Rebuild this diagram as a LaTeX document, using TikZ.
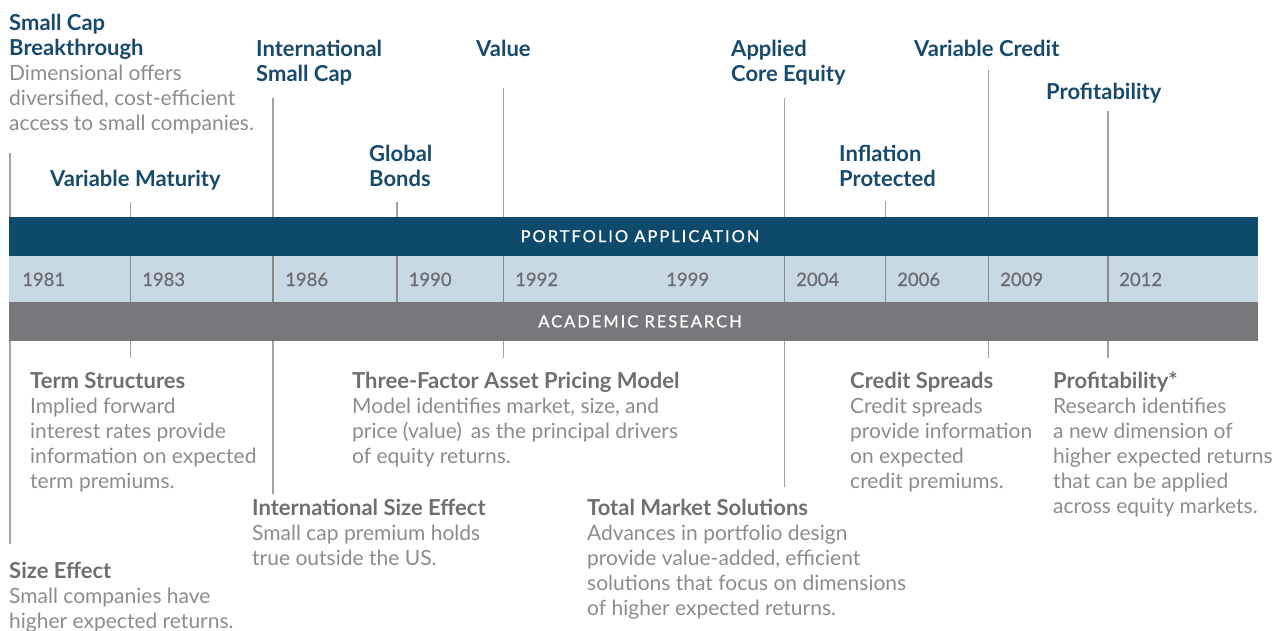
\documentclass[tikz,border=0pt]{standalone}
\usepackage{fontspec}
\setmainfont{Lato}
\definecolor{navy}{HTML}{0E4A6B}
\definecolor{navytext}{HTML}{174A6C}
\definecolor{lightband}{HTML}{C6D9E5}
\definecolor{grayband}{HTML}{78787C}
\definecolor{yeargray}{HTML}{6C6C70}
\definecolor{bodygray}{HTML}{8C8C8F}
\definecolor{headgray}{HTML}{6E6F72}
\definecolor{linegray}{HTML}{A2A2A2}
\newcommand{\hd}[1]{{\fontsize{22}{25}\selectfont\bfseries\color{navytext}#1}}
\newcommand{\rh}[1]{{\fontsize{22}{25}\selectfont\bfseries\color{headgray}#1}}
\begin{document}
\begin{tikzpicture}[x=1pt,y=-1pt,
  txt/.style={anchor=base west, inner sep=0pt, align=left, text=bodygray,
    font=\fontsize{21}{25}\selectfont},
  band/.style={draw=none, inner sep=0pt, minimum width=1249pt},
  bandlabel/.style={text=white, inner sep=0pt,
    font=\fontsize{16.5}{18}\selectfont\addfontfeature{LetterSpace=12,FakeBold=0.8}},
  year/.style={anchor=base west, inner sep=0pt, text=yeargray,
    font=\fontsize{18.5}{20}\selectfont\addfontfeature{FakeBold=0.6}},
  conn/.style={draw=linegray, line width=1.3pt},
  divider/.style={draw=linegray!85!black, line width=1.1pt}]
\useasboundingbox (0,0) rectangle (1284,630);

% bands
\node[band, fill=navy, minimum height=39pt] (pa) at (633.5,236.2) {};
\node[band, fill=lightband, minimum height=46pt] (yr) at (633.5,278.7) {};
\node[band, fill=grayband, minimum height=39.3pt] (ar) at (633.5,321.35) {};
\node[bandlabel] (palab) at (640,236.2) {PORTFOLIO APPLICATION};
\node[bandlabel] (arlab) at (640,321.35) {ACADEMIC RESEARCH};

% years
\node[year] (y1981) at (22,286) {1981};
\node[year] (y1983) at (142,286) {1983};
\node[year] (y1986) at (285,286) {1986};
\node[year] (y1990) at (408.5,286) {1990};
\node[year] (y1992) at (515,286) {1992};
\node[year] (y1999) at (666,286) {1999};
\node[year] (y2004) at (796,286) {2004};
\node[year] (y2006) at (897,286) {2006};
\node[year] (y2009) at (1000,286) {2009};
\node[year] (y2012) at (1119,286) {2012};

% x positions of the milestones
\coordinate (xa) at (10,0);
\coordinate (xb) at (130.7,0);
\coordinate (xc) at (273,0);
\coordinate (xd) at (397,0);
\coordinate (xe) at (503.3,0);
\coordinate (xf) at (784.3,0);
\coordinate (xg) at (885.7,0);
\coordinate (xh) at (988.7,0);
\coordinate (xi) at (1108,0);

% dividers in the year band
\foreach \c in {xb,xc,xd,xe,xf,xg,xh,xi}
  \draw[divider] (\c |- yr.north) -- (\c |- yr.south);

% top texts (anchor = baseline of the last line)
\node[txt] (smallcap) at (9,130.5) {\hd{Small Cap}\\\hd{Breakthrough}\\Dimensional offers\\diversified, cost-efficient\\access to small companies.};
\node[txt] (varmat) at (50,186) {\hd{Variable Maturity}};
\node[txt] (intlsc) at (256,81) {\hd{International}\\\hd{Small Cap}};
\node[txt] (global) at (369,186) {\hd{Global}\\\hd{Bonds}};
\node[txt] (value) at (476,56) {\hd{Value}};
\node[txt] (applied) at (731,81.5) {\hd{Applied}\\\hd{Core Equity}};
\node[txt] (inflation) at (839,186) {\hd{Inflation}\\\hd{Protected}};
\node[txt] (varcredit) at (914,56) {\hd{Variable Credit}};
\node[txt] (profit) at (1046,99) {\hd{Profitability}};

% top connector start points
\coordinate (ta) at (10,153);
\coordinate (tb) at (130.7,201.7);
\coordinate (tc) at (273,98);
\coordinate (td) at (397,201.7);
\coordinate (te) at (503.3,88);
\coordinate (tf) at (784.3,98.3);
\coordinate (tg) at (885.7,201);
\coordinate (th) at (988.7,70);
\coordinate (ti) at (1108,111);
\foreach \c in {ta,tb,tc,td,te,tf,tg,th,ti}
  \draw[conn] (\c) -- (\c |- pa.north);

% bottom texts (anchor = baseline of the last line)
\node[txt] (term) at (30,488) {\rh{Term Structures}\\Implied forward\\interest rates provide\\information on expected\\term premiums.};
\node[txt] (three) at (352,463) {\rh{Three-Factor Asset Pricing Model}\\Model identifies market, size, and\\price (value)\, as the principal drivers\\of equity returns.};
\node[txt] (credit) at (850,488) {\rh{Credit Spreads}\\Credit spreads\\provide information\\on expected\\credit premiums.};
\node[txt] (profres) at (1053,513) {\rh{Profitability*}\\Research identifies\\a new dimension of\\higher expected returns\\that can be applied\\across equity markets.};
\node[txt] (intlsize) at (252,565) {\rh{International Size Effect}\\Small cap premium holds\\true outside the US.};
\node[txt] (total) at (587,615) {\rh{Total Market Solutions}\\Advances in portfolio design\\provide value-added, efficient\\solutions that focus on dimensions\\of higher expected returns.};
\node[txt] (size) at (9,628) {\rh{Size Effect}\\Small companies have\\higher expected returns.};

% bottom connector end points
\coordinate (ba) at (10,544);
\coordinate (bb) at (130.7,358);
\coordinate (bc) at (273,494);
\coordinate (be) at (503.3,358);
\coordinate (bf) at (784.3,487);
\coordinate (bh) at (988.7,358);
\coordinate (bi) at (1108,358);
\foreach \c in {ba,bb,bc,be,bf,bh,bi}
  \draw[conn] (\c |- ar.south) -- (\c);
\end{tikzpicture}
\end{document}
